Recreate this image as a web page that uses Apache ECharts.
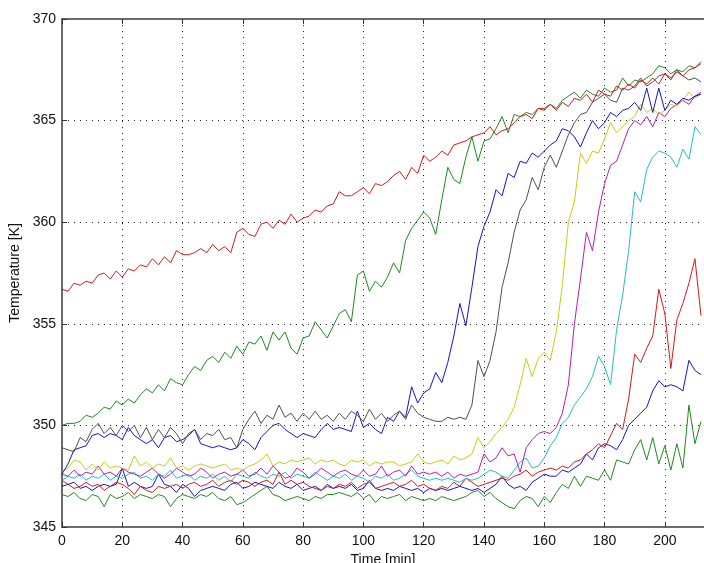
<!DOCTYPE html>
<html>
<head>
<meta charset="utf-8">
<script src="https://cdn.jsdelivr.net/npm/echarts@6/dist/echarts.min.js"></script>
<style>
html,body{margin:0;padding:0;background:#fff;overflow:hidden;}
#chart{width:704px;height:563px;}
</style>
</head>
<body>
<div id="chart"></div>
<script>
const time = [
  0,2,4,6,8,10,12,14,16,18,
  20,22,24,26,28,30,32,34,36,38,
  40,42,44,46,48,50,52,54,56,58,
  60,62,64,66,68,70,72,74,76,78,
  80,82,84,86,88,90,92,94,96,98,
  100,102,104,106,108,110,112,114,116,118,
  120,122,124,126,128,130,132,134,136,138,
  140,142,144,146,148,150,152,154,156,158,
  160,162,164,166,168,170,172,174,176,178,
  180,182,184,186,188,190,192,194,196,198,
  200,202,204,206,208,210,212
];
const xTicks = [0,20,40,60,80,100,120,140,160,180,200];
const yTicks = [345,350,355,360,365,370];

const redTop = [
  356.7,356.6,357.0,356.9,357.1,357.0,357.4,357.5,357.2,357.6,
  357.3,357.7,357.6,357.9,357.8,358.2,357.9,358.3,358.0,358.6,
  358.4,358.4,358.5,358.7,358.5,358.9,358.6,358.8,358.5,359.5,
  359.7,359.4,359.3,359.9,360.0,359.7,360.1,359.9,360.4,360.0,
  360.2,360.3,360.6,360.5,360.8,360.9,361.5,361.3,361.3,361.5,
  361.7,361.4,361.9,361.8,362.0,362.3,362.5,362.1,362.7,362.4,
  363.3,363.0,363.2,363.5,363.3,363.8,363.9,364.0,364.2,364.3,
  364.4,364.7,364.3,364.5,364.6,364.9,365.2,365.3,365.1,365.6,
  365.6,365.8,365.5,365.9,365.7,366.1,366.0,366.3,365.9,366.5,
  366.3,366.2,366.7,366.5,366.8,366.6,367.0,366.8,367.1,366.8,
  367.3,367.1,367.4,367.2,367.5,367.6,367.8
];
const greenTop = [
  350.0,350.1,350.1,350.2,350.5,350.4,350.6,350.9,350.8,351.2,
  351.0,351.3,351.1,351.5,351.8,351.6,352.0,351.7,352.3,352.1,
  352.0,352.5,352.9,352.7,353.2,353.4,353.1,353.6,353.3,353.9,
  353.5,354.1,354.0,354.4,353.7,354.6,354.2,354.6,353.8,353.5,
  354.3,354.4,355.1,354.7,354.3,354.9,355.5,355.7,355.1,357.4,
  357.6,356.6,357.1,356.8,357.3,358.0,357.5,359.1,359.7,360.1,
  360.5,360.2,359.4,361.1,362.7,362.1,361.9,363.2,364.2,363.0,
  364.0,364.1,364.6,365.2,364.4,365.3,365.2,365.4,365.3,365.6,
  365.5,365.8,365.6,366.0,366.2,366.4,366.1,366.5,366.3,366.2,
  366.6,366.4,366.5,367.1,366.7,367.0,366.9,367.1,367.3,367.7,
  367.6,367.3,367.5,367.4,367.7,367.6,367.9
];
const gray = [
  348.9,348.8,348.7,349.4,349.2,349.8,350.1,349.6,349.9,349.5,
  350.0,349.7,350.0,349.4,349.9,349.3,349.8,349.4,349.9,349.6,
  349.1,349.6,349.8,349.3,349.6,349.5,349.8,349.3,349.4,348.9,
  349.8,350.3,350.7,350.1,350.5,350.3,351.0,350.4,350.6,350.2,
  350.6,350.3,350.7,350.3,350.5,350.2,350.6,350.3,350.7,350.5,
  350.2,350.8,350.3,350.6,350.2,350.5,350.7,350.3,351.0,350.6,
  350.4,350.3,350.2,350.2,350.4,350.3,350.4,350.3,351.0,353.2,
  352.4,353.2,354.6,356.8,358.0,359.5,360.6,361.1,362.2,361.6,
  362.7,363.3,362.7,363.5,364.3,364.9,365.3,365.4,365.9,366.1,
  366.3,366.0,365.9,366.6,366.5,366.7,367.1,366.7,366.9,367.2,
  367.3,367.0,367.5,367.2,367.0,367.1,366.9
];
const blueTop = [
  347.6,348.1,348.8,348.9,349.0,349.5,349.6,349.4,349.6,349.5,
  349.3,349.9,349.5,349.3,349.1,349.3,348.9,349.4,349.5,349.2,
  349.3,349.5,349.8,349.1,349.0,348.9,349.0,348.9,348.8,348.9,
  349.3,349.1,348.8,349.4,349.7,350.0,350.1,349.8,349.6,349.4,
  349.6,349.5,349.4,349.8,350.1,349.8,349.9,349.8,349.7,350.7,
  349.9,350.1,349.8,349.6,350.4,350.2,350.7,350.4,351.9,351.1,
  351.6,351.8,352.6,352.1,353.1,354.4,356.0,354.9,356.8,358.8,
  359.8,360.5,361.6,361.3,362.4,362.2,363.0,362.9,363.4,363.2,
  363.5,363.8,364.0,364.6,364.5,364.2,363.7,364.4,365.0,364.6,
  364.9,365.4,365.2,365.5,365.6,365.9,365.5,366.6,365.4,366.6,
  365.5,366.0,365.8,366.1,366.0,366.2,366.3
];
const yellow = [
  347.7,347.9,348.3,348.2,347.8,348.1,347.8,348.2,347.9,348.0,
  347.9,347.8,348.5,348.0,348.2,347.9,348.1,348.0,348.4,347.9,
  348.0,347.8,348.0,348.1,348.0,347.9,348.0,348.1,347.8,347.9,
  347.8,348.0,348.1,348.3,348.6,348.0,348.2,348.1,348.3,348.2,
  348.3,348.4,348.1,348.3,348.2,348.3,348.1,348.0,348.3,348.2,
  348.3,348.0,348.2,348.1,348.2,348.2,348.0,348.1,348.2,348.6,
  348.2,348.1,348.2,348.3,348.1,348.5,348.3,348.4,348.6,349.4,
  348.9,349.2,349.6,349.9,350.3,350.9,352.0,353.3,352.4,353.3,
  353.6,353.2,354.6,356.9,360.0,361.0,363.4,362.9,363.5,363.4,
  364.1,364.9,364.4,364.7,365.0,365.2,365.8,365.4,365.6,365.3,
  365.5,365.8,365.7,366.0,366.4,366.1,366.3
];
const magenta = [
  347.6,347.5,347.8,347.5,347.7,347.6,348.0,347.6,347.7,347.5,
  347.9,347.7,347.6,347.5,347.7,347.9,347.6,347.4,347.6,347.9,
  347.7,347.5,347.6,347.9,347.7,347.4,347.6,347.7,347.5,347.6,
  347.8,347.5,347.6,347.9,347.6,348.0,347.7,347.4,347.5,347.9,
  347.7,347.4,347.6,347.9,347.7,347.5,347.7,347.8,347.6,347.5,
  347.8,347.5,347.6,348.0,347.5,347.7,347.8,347.5,348.0,347.6,
  347.7,347.6,347.7,347.5,347.7,347.4,347.6,347.5,347.6,347.7,
  348.6,348.2,348.4,348.9,348.5,348.6,347.7,348.9,349.3,349.6,
  349.7,349.6,349.9,350.6,352.0,355.0,357.2,359.5,358.6,360.5,
  361.9,362.8,363.0,363.8,364.6,365.0,364.8,365.2,364.7,365.4,
  365.2,365.6,365.8,366.0,365.8,366.2,366.4
];
const cyan = [
  347.3,347.5,347.4,347.6,347.3,347.5,347.4,347.6,347.3,347.5,
  347.4,347.6,347.7,347.4,347.5,347.3,347.6,347.5,347.8,347.4,
  347.5,347.6,347.3,347.5,347.4,347.6,347.3,347.5,347.2,347.6,
  347.5,347.4,347.7,347.5,347.4,347.6,347.5,347.7,347.4,347.6,
  347.5,347.4,347.7,347.5,347.3,347.5,347.4,347.6,347.3,347.5,
  347.4,347.2,347.5,347.4,347.6,347.3,347.4,347.6,347.8,347.5,
  347.4,347.3,347.4,347.3,347.4,347.3,347.2,347.4,347.3,347.4,
  347.6,347.8,347.7,347.5,347.4,347.8,348.2,348.4,347.9,348.0,
  348.4,349.0,349.4,350.1,350.4,351.0,351.4,351.8,352.4,353.4,
  352.9,352.0,354.7,356.4,358.6,361.5,361.0,362.6,363.2,363.5,
  363.4,363.2,362.7,363.6,363.1,364.7,364.3
];
const redLow = [
  347.3,347.1,346.9,347.0,347.2,347.0,347.1,346.8,347.0,347.2,
  347.1,346.9,346.6,347.0,346.8,346.7,347.0,346.9,347.0,347.1,
  346.9,347.1,347.2,347.0,347.1,347.3,347.0,347.2,347.3,347.1,
  347.3,347.2,347.0,347.2,347.3,347.1,347.7,347.1,347.3,347.1,
  347.2,347.0,346.9,346.8,347.0,346.9,347.1,347.0,347.2,346.9,
  347.1,347.2,346.9,347.0,347.1,347.2,347.0,347.1,347.3,347.0,
  347.1,346.9,346.8,347.0,346.9,347.2,347.0,347.4,347.2,347.0,
  347.1,347.2,347.3,347.4,347.3,347.5,347.6,347.8,347.5,347.7,
  347.8,347.9,347.8,348.0,347.9,348.2,348.3,348.6,348.8,349.1,
  348.9,349.5,350.1,349.8,351.3,353.5,353.1,353.8,354.4,356.7,
  355.5,352.8,355.2,356.0,357.0,358.2,355.4
];
const blueLow = [
  347.0,347.1,347.2,346.9,347.0,346.8,347.0,347.1,347.0,347.1,
  347.9,347.0,347.2,347.0,346.9,347.0,347.6,347.1,347.0,346.7,
  347.1,346.9,346.5,346.8,346.9,347.0,346.9,346.8,347.1,347.2,
  346.9,347.0,347.2,347.1,347.0,346.9,347.2,347.0,346.9,347.1,
  346.8,346.9,347.0,346.8,347.1,346.9,347.0,346.9,347.1,346.8,
  346.9,347.3,346.9,346.8,346.9,346.8,347.0,346.9,346.8,346.9,
  346.7,346.9,346.8,346.9,346.8,346.9,347.0,346.9,346.8,346.9,
  346.7,346.9,347.1,347.5,347.1,346.9,347.0,346.8,347.2,347.4,
  347.6,347.5,347.5,347.8,347.7,347.9,348.1,348.6,348.3,348.9,
  349.1,349.0,348.8,349.3,350.0,350.3,350.6,350.9,351.7,352.2,
  351.9,352.0,351.9,351.7,353.2,352.7,352.5
];
const greenLow = [
  346.6,346.5,346.7,346.4,346.3,346.6,346.5,346.0,346.6,346.4,
  346.5,346.7,346.4,346.6,346.5,346.4,346.6,346.5,346.0,346.4,
  346.6,346.5,346.4,346.6,346.5,346.7,346.4,346.3,346.5,346.1,
  346.2,346.4,346.6,346.8,347.0,346.6,346.5,346.3,346.4,346.5,
  346.4,346.3,346.5,346.4,346.6,346.6,346.7,346.6,346.5,346.7,
  346.4,346.6,346.2,346.5,346.4,346.5,346.6,346.3,346.5,346.4,
  346.3,346.4,346.3,346.5,346.4,346.3,346.4,346.5,346.7,346.8,
  346.5,346.7,346.4,346.2,346.0,345.9,346.3,346.5,346.4,346.0,
  346.5,346.2,346.7,347.1,346.9,347.5,347.0,347.5,347.4,347.3,
  347.8,347.3,348.3,348.2,348.1,348.8,349.3,348.3,349.4,348.1,
  349.0,347.8,349.1,347.9,351.0,349.1,350.2
];

const seriesDefs = [
  {name: 'greenLow', data: greenLow, color: '#1f8a1f'},
  {name: 'blueLow', data: blueLow, color: '#1414c8'},
  {name: 'redLow', data: redLow, color: '#d81818'},
  {name: 'cyan', data: cyan, color: '#22c0c0'},
  {name: 'magenta', data: magenta, color: '#b81cb8'},
  {name: 'yellow', data: yellow, color: '#cccc10'},
  {name: 'blueTop', data: blueTop, color: '#1414c8'},
  {name: 'gray', data: gray, color: '#505050'},
  {name: 'greenTop', data: greenTop, color: '#1f8a1f'},
  {name: 'redTop', data: redTop, color: '#d81818'}
];

const FONT = 'Liberation Sans, Arial, Helvetica, sans-serif';
const chart = echarts.init(document.getElementById('chart'), null, {renderer: 'canvas', width: 704, height: 563});
const dotted = {type: [1, 5], color: '#222', width: 1};

const option = {
  animation: false,
  backgroundColor: '#ffffff',
  grid: {left: 62, top: 19, width: 642, height: 508, containLabel: false, outerBoundsMode: 'none'},
  xAxis: [{
    type: 'value', min: xTicks[0], max: 213, interval: 20,
    name: 'Time [min]', nameLocation: 'middle', nameGap: 22,
    nameTextStyle: {fontFamily: FONT, fontSize: 14, color: '#111'},
    axisLine: {show: true, onZero: false, lineStyle: {color: '#6a6a6a', width: 2}},
    axisTick: {show: true, inside: true, length: 5, lineStyle: {color: '#333'}},
    axisLabel: {fontFamily: FONT, fontSize: 14, color: '#111', margin: 7, showMaxLabel: false,
      formatter: v => xTicks.indexOf(v) >= 0 ? String(v) : ''},
    splitLine: {show: true, lineStyle: dotted}
  }, {
    type: 'value', position: 'top', min: xTicks[0], max: 213, interval: 20,
    axisLine: {show: true, onZero: false, lineStyle: {color: '#6a6a6a', width: 2}},
    axisTick: {show: true, inside: true, length: 5, lineStyle: {color: '#333'}},
    axisLabel: {show: false},
    splitLine: {show: false}
  }],
  yAxis: [{
    type: 'value', min: yTicks[0], max: yTicks[yTicks.length - 1], interval: 5,
    name: 'Temperature [K]', nameLocation: 'middle', nameGap: 31, nameRotate: 90,
    nameTextStyle: {fontFamily: FONT, fontSize: 14, color: '#111'},
    axisLine: {show: true, onZero: false, lineStyle: {color: '#6a6a6a', width: 2}},
    axisTick: {show: true, inside: true, length: 5, lineStyle: {color: '#333'}},
    axisLabel: {fontFamily: FONT, fontSize: 14, color: '#111', margin: 6},
    splitLine: {show: true, lineStyle: dotted}
  }],
  series: seriesDefs.map(s => ({
    name: s.name,
    type: 'line',
    xAxisIndex: 0,
    yAxisIndex: 0,
    showSymbol: false,
    symbol: 'none',
    smooth: false,
    clip: true,
    lineStyle: {color: s.color, width: 1},
    itemStyle: {color: s.color},
    data: time.map((t, i) => [t, s.data[i]])
  }))
};
chart.setOption(option);
</script>
</body>
</html>
